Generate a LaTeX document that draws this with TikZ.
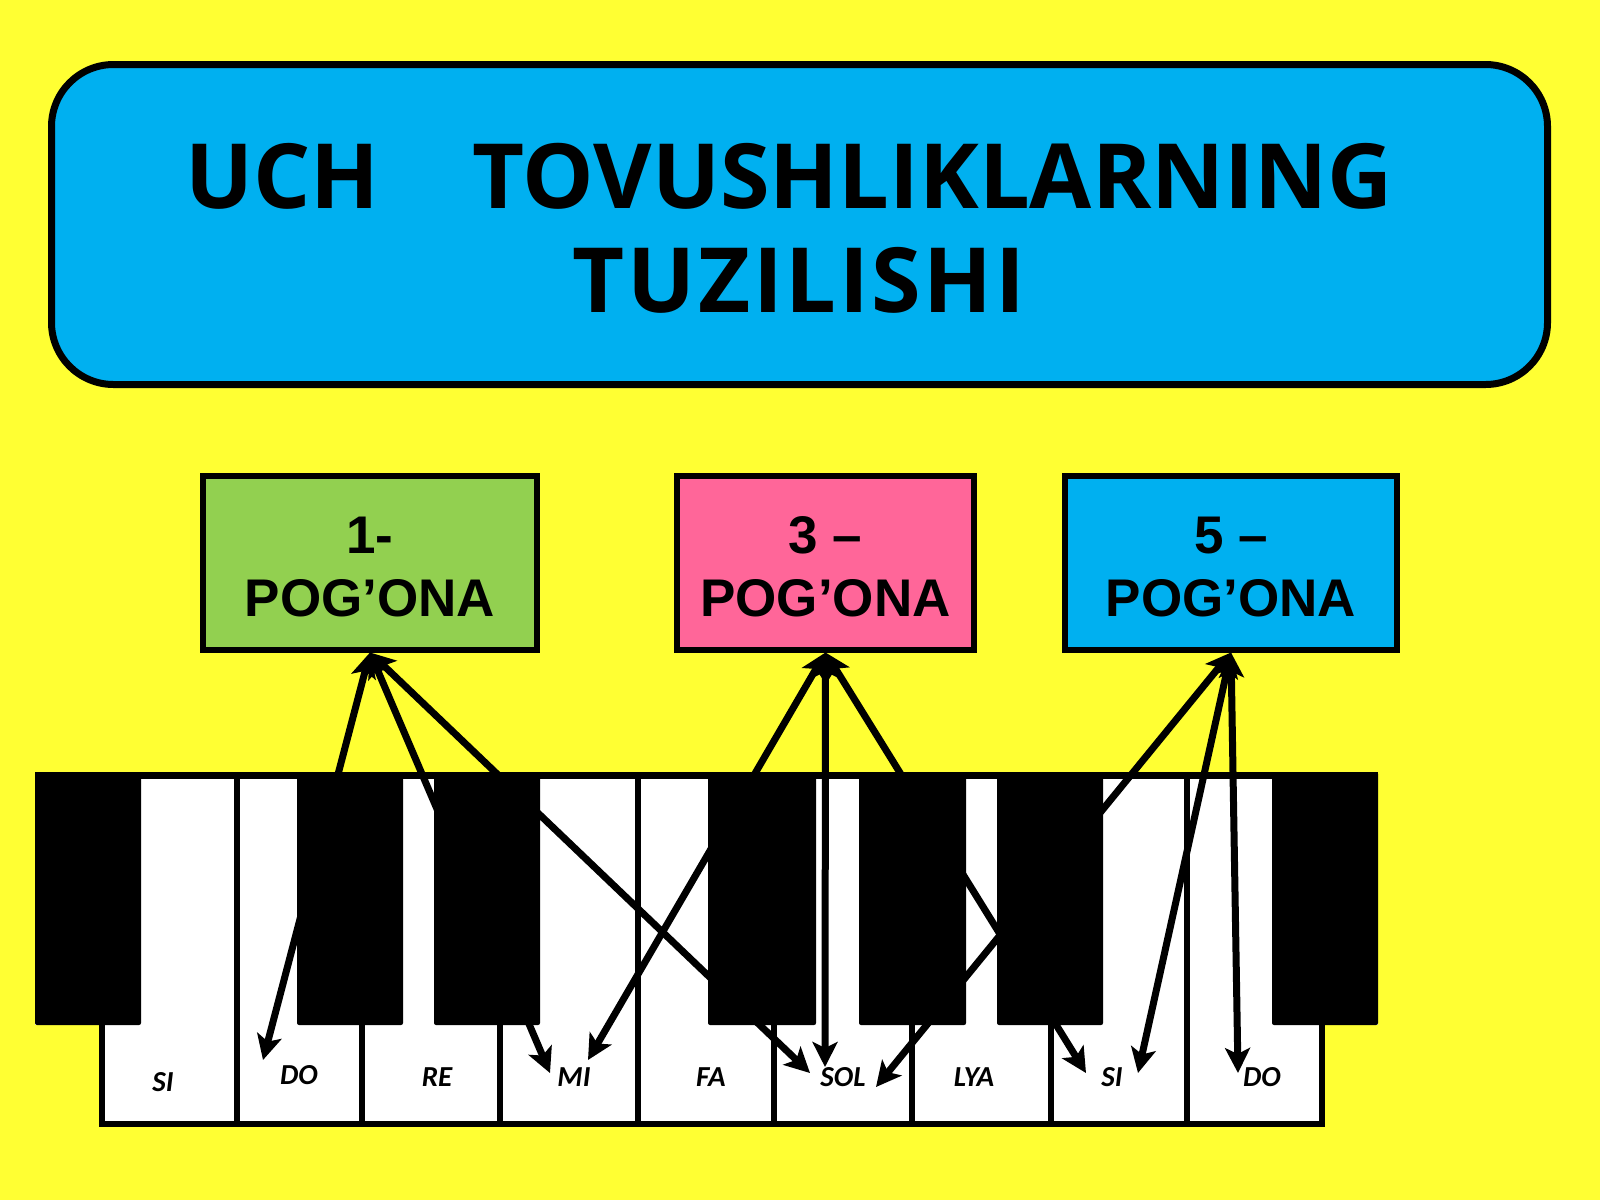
\documentclass[tikz,border=0pt]{standalone}
\usepackage{fontspec}
\setmainfont{Liberation Sans}
\newfontfamily\titlefont{Open Sans}
\newfontfamily\keyfont{Carlito}
\usetikzlibrary{arrows.meta}
\definecolor{bgyellow}{HTML}{FFFF33}
\definecolor{titleblue}{HTML}{00B0F0}
\definecolor{boxgreen}{HTML}{92D050}
\definecolor{boxpink}{HTML}{FF6699}
\begin{document}
\begin{tikzpicture}[x=1pt,y=-1pt,
  pbox/.style={draw=black,line width=6pt,minimum height=174pt,inner sep=0pt,align=center,
    font=\bfseries\fontsize{53}{63}\selectfont},
  link/.style={line width=7pt,
    {Stealth[length=25pt,width=25pt,inset=6pt]}-{Stealth[length=25pt,width=25pt,inset=6pt]}},
  keylabel/.style={font=\keyfont\bfseries\itshape\fontsize{29}{30}\selectfont},
  titleline/.style={font=\titlefont\bfseries\fontsize{90}{104}\selectfont,inner sep=0pt,anchor=base},
  keyline/.style={line width=6pt,draw=black},
  blackkey/.style={fill=black,rounded corners=2pt}]

\fill[bgyellow] (0,0) rectangle (1600,1200);
\useasboundingbox (0,0) rectangle (1600,1200);

% title
\node[draw=black,line width=7pt,fill=titleblue,rounded corners=62pt,
  minimum width=1496pt,minimum height=320pt,inner sep=0pt] (title) at (799.5,224.5) {};
\node[titleline] (titleA) at (789,208) {UCH\hspace{93pt}TOVUSHLIKLARNING};
\node[titleline] (titleB) at (799,312) {\addfontfeature{LetterSpace=3}TUZILISHI};

% boxes
\node[pbox,fill=boxgreen,minimum width=334pt] (b1) at (370,562.5) {};
\node[pbox,fill=boxpink,minimum width=297pt] (b2) at (825.5,562.5) {};
\node[pbox,fill=titleblue,minimum width=332pt] (b3) at (1231,562.5) {};
\node[pbox,draw=none,fill=none,minimum height=0pt] (b1t) at (370,567) {1-\\POG’ONA};
\node[pbox,draw=none,fill=none,minimum height=0pt] (b2t) at (825.5,567) {3 –\\POG’ONA};
\node[pbox,draw=none,fill=none,minimum height=0pt] (b3t) at (1231,567) {5 –\\POG’ONA};

% keyboard white parts
\fill[white] (35,772) rectangle (1378,1025);
\filldraw[fill=white,keyline] (102,1025) -- (102,1124) -- (1322,1124) -- (1322,1025);
\fill[black] (35,772) rectangle (1378,779);
\foreach \x in {237,638,1187} \draw[keyline] (\x,775) -- (\x,1124);
\foreach \x in {362,500,774,912,1051} \draw[keyline] (\x,1020) -- (\x,1124);

% labels
\node[keylabel] (kSIa) at (163,1082) {SI};
\node[keylabel] (kDOa) at (299,1075) {DO};
\node[keylabel] (kRE) at (437,1077) {RE};
\node[keylabel] (kMI) at (574,1077) {MI};
\node[keylabel] (kFA) at (711,1077) {FA};
\node[keylabel] (kSOL) at (843,1077) {SOL};
\node[keylabel] (kLYA) at (974,1077) {LYA};
\node[keylabel] (kSIb) at (1112,1077) {SI};
\node[keylabel] (kDOb) at (1262,1077) {DO};

% arrow end points
\coordinate (tDOa) at (263,1060);
\coordinate (tMIa) at (550,1073);
\coordinate (tSOLa) at (810,1073);
\coordinate (tMIb) at (588,1060);
\coordinate (tSOLb) at (825,1067);
\coordinate (tSIa) at (1086,1073);
\coordinate (tSOLc) at (876,1087);
\coordinate (tSIb) at (1138,1073);
\coordinate (tDOb) at (1238,1073);

% arrows
\draw[link] (b1.south) -- (tDOa);
\draw[link] (b1.south) -- (tMIa);
\draw[link] (b1.south) -- (tSOLa);
\draw[link] (b2.south) -- (tMIb);
\draw[link] (b2.south) -- (tSOLb);
\draw[link] (b2.south) -- (tSIa);
\draw[link] (b3.south) -- (tSOLc);
\draw[link] (b3.south) -- (tSIb);
\draw[link] (b3.south) -- (tDOb);

% black keys
\foreach \a/\b in {35/141,297/403,434/540,708/816,859/966,997/1103,1272/1378}
  \fill[blackkey] (\a,772) rectangle (\b,1025);
\end{tikzpicture}
\end{document}
